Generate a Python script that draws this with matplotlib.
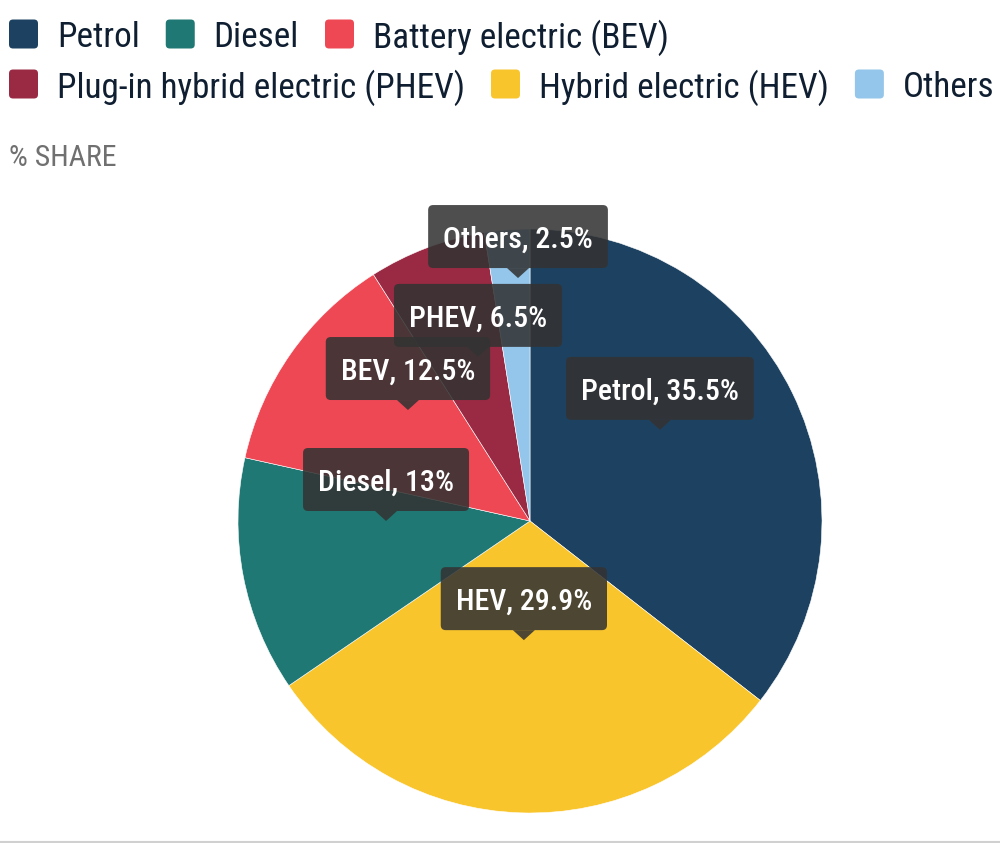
import matplotlib
matplotlib.use("Agg")
import matplotlib.pyplot as plt
from matplotlib.patches import FancyBboxPatch, Polygon
from matplotlib.transforms import IdentityTransform

W, H = 1000, 843
FONT = ["Roboto Condensed", "Roboto", "DejaVu Sans"]

# data
legend_labels = ["Petrol", "Diesel", "Battery electric (BEV)",
                 "Plug-in hybrid electric (PHEV)", "Hybrid electric (HEV)", "Others"]
short_labels = ["Petrol", "Diesel", "BEV", "PHEV", "HEV", "Others"]
shares = [35.5, 13, 12.5, 6.5, 29.9, 2.5]
share_text = ["35.5", "13", "12.5", "6.5", "29.9", "2.5"]
colors = ["#1d4261", "#1f7873", "#ef4855", "#9a2a43", "#f9c52d", "#93c6ea"]
legend_rows = [[0, 1, 2], [3, 4, 5]]
pie_order = [0, 4, 1, 2, 3, 5]   # clockwise from 12 o'clock

# tooltip tip positions, in pie radius units
tip_pos = {
    "Petrol": (0.445, 0.312),
    "HEV": (-0.021, -0.408),
    "Diesel": (-0.493, 0.0),
    "BEV": (-0.418, 0.380),
    "PHEV": (-0.178, 0.562),
    "Others": (-0.041, 0.832),
}
draw_order = ["Petrol", "HEV", "Diesel", "Others", "PHEV", "BEV"]

fig = plt.figure(figsize=(W / 100, H / 100), dpi=100)
ident = IdentityTransform()


def px(x, y_top):
    return x, H - y_top


# legend
renderer = fig.canvas.get_renderer()
row_y = [34, 84]
for row, ys in zip(legend_rows, row_y):
    x = 9
    for i in row:
        sx, sy = px(x, ys + 14.5)
        fig.patches.append(FancyBboxPatch((sx, sy), 29, 29,
                                          boxstyle="round,pad=0,rounding_size=4",
                                          fc=colors[i], ec="none", transform=ident))
        tx, ty = px(x + 48, ys)
        t = fig.text(tx, ty, legend_labels[i], transform=ident, family=FONT,
                     fontsize=25.3, color="#0f1f31", va="center_baseline", ha="left")
        w = t.get_window_extent(renderer).width
        x = x + 48 + w + 26

sx, sy = px(9, 155)
fig.text(sx, sy, "% SHARE", transform=ident, family=FONT, fontsize=21.5,
         color="#707070", va="center_baseline", ha="left")

# pie
R = 292
cx, cy = 530, 521
ax = fig.add_axes([(cx - R) / W, (H - cy - R) / H, 2 * R / W, 2 * R / H])
ax.pie([shares[i] for i in pie_order], colors=[colors[i] for i in pie_order],
       startangle=90, counterclock=False, radius=1,
       wedgeprops=dict(edgecolor="white", linewidth=0.4))
ax.set_xlim(-1, 1)
ax.set_ylim(-1, 1)
ax.set_aspect("auto")
ax.axis("off")

# tooltips
box_h = 63
arrow_h = 10
arrow_w = 11
for name in draw_order:
    i = short_labels.index(name)
    tx, ty = ax.transData.transform(tip_pos[name])
    label = f"{name}, {share_text[i]}%"
    base = ty + arrow_h
    t = fig.text(tx, base + box_h / 2, label, transform=ident, family=FONT,
                 fontsize=21.5, fontweight="medium", color="white",
                 ha="center", va="center_baseline", zorder=5)
    tw = t.get_window_extent(renderer).width
    bw = tw + 30
    box = FancyBboxPatch((tx - bw / 2, base), bw, box_h,
                         boxstyle="round,pad=0,rounding_size=5",
                         fc="#333333", ec="none", alpha=0.87,
                         transform=ident, zorder=4)
    fig.patches.append(box)
    tri = Polygon([(tx - arrow_w, base), (tx + arrow_w, base), (tx, ty)],
                  closed=True, fc="#333333", ec="none", alpha=0.87,
                  transform=ident, zorder=4)
    fig.patches.append(tri)

# bottom rule
fig.add_artist(plt.Line2D([0, W], [1.5, 1.5], transform=ident,
                          color="#d0d0d0", linewidth=1.5))

fig.savefig("out.png", dpi=100)
